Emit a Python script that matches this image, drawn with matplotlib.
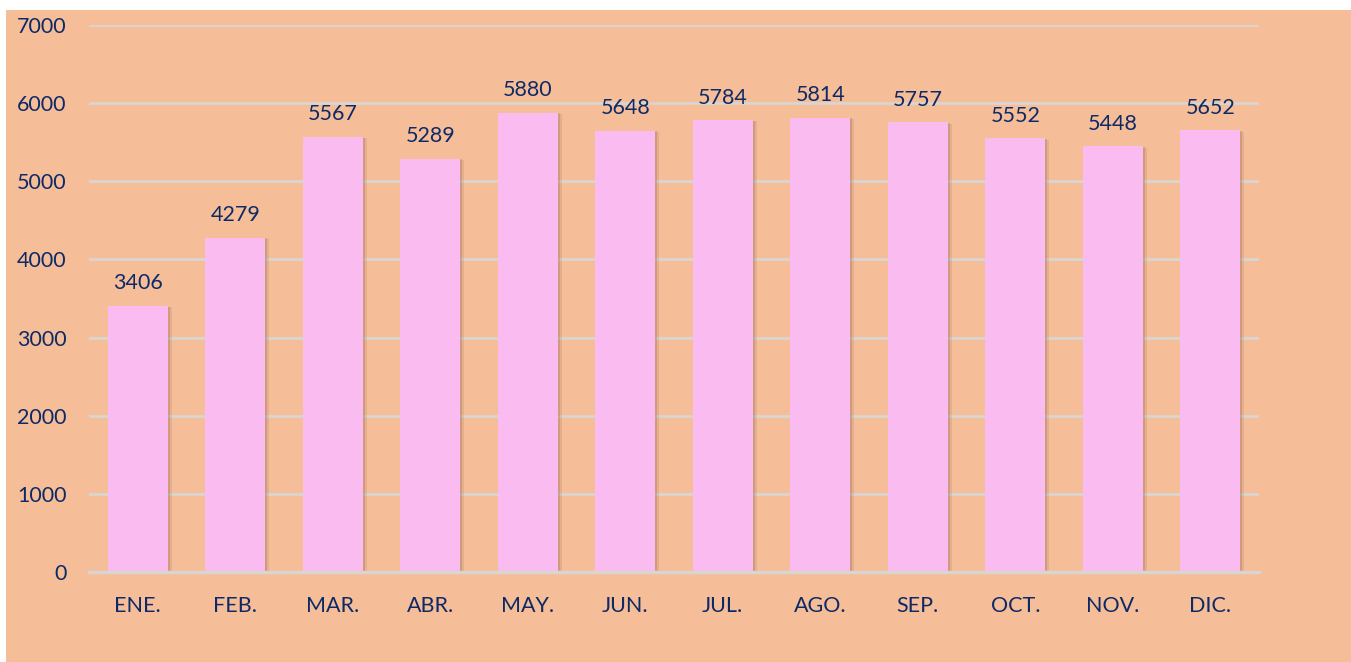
import matplotlib.pyplot as plt
import matplotlib.patheffects as pe
from matplotlib.patches import Rectangle

months = ['ENE.', 'FEB.', 'MAR.', 'ABR.', 'MAY.', 'JUN.',
          'JUL.', 'AGO.', 'SEP.', 'OCT.', 'NOV.', 'DIC.']
values = [3406, 4279, 5567, 5289, 5880, 5648, 5784, 5814, 5757, 5552, 5448, 5652]
yticks = [0, 1000, 2000, 3000, 4000, 5000, 6000, 7000]

bg = '#F5BD98'
bar_color = '#F9BBF0'
text_color = '#0E2A66'
grid_color = '#D9D5D0'

plt.rcParams['font.family'] = ['Lato', 'DejaVu Sans']

fig = plt.figure(figsize=(13.51, 6.62), dpi=100, facecolor='white')
# peach panel, leaving a thin white edge top/left
panel = Rectangle((6 / 1351, 0), 1 - 6 / 1351, 1 - 10 / 662,
                  transform=fig.transFigure, facecolor=bg,
                  edgecolor='none', zorder=-10)
fig.add_artist(panel)

ax = fig.add_axes([89 / 1351, 90 / 662, 1170 / 1351, 547 / 662])
ax.set_facecolor('none')
ax.set_zorder(1)

x = range(len(months))
bars = ax.bar(x, values, width=0.615, color=bar_color, zorder=3)
for b in bars:
    b.set_path_effects([
        pe.withSimplePatchShadow(offset=(3, -1), shadow_rgbFace='#8a6450', alpha=0.15),
        pe.withSimplePatchShadow(offset=(1.5, -0.5), shadow_rgbFace='#8a6450', alpha=0.25),
    ])

for xi, v in zip(x, values):
    ax.annotate(str(v), (xi, v), xytext=(0, 9), textcoords='offset points',
                ha='center', va='bottom', fontsize=15.5, color=text_color, zorder=4)

ax.set_xlim(-0.5, len(months) - 0.5)
ax.set_ylim(0, 7000)
ax.set_yticks(yticks)
ax.set_xticks(list(x))
ax.set_xticklabels(months)
ax.yaxis.grid(True, color=grid_color, linewidth=2, zorder=1)
ax.set_axisbelow(True)

for side in ['top', 'right', 'left']:
    ax.spines[side].set_visible(False)
ax.spines['bottom'].set_color(grid_color)
ax.spines['bottom'].set_linewidth(2.5)
ax.spines['bottom'].set_zorder(5)

ax.tick_params(axis='both', length=0, labelsize=15.5, labelcolor=text_color)
ax.tick_params(axis='y', pad=16)
ax.tick_params(axis='x', pad=17)

fig.savefig('out.png', dpi=100, facecolor='white')
